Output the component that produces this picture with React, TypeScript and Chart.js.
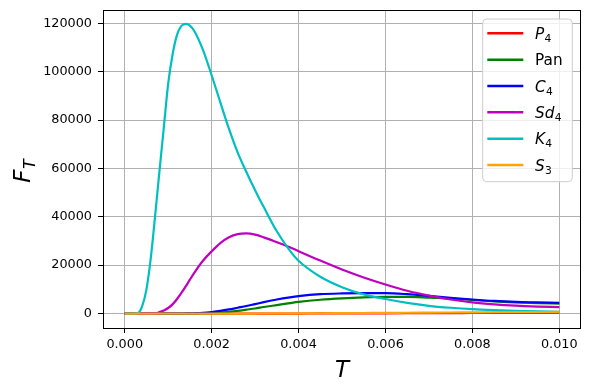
import React, { useEffect, useRef } from "react";
import { Chart, registerables } from "chart.js";

Chart.register(...registerables);

// ---- data ----
const T = [0, 0.0002, 0.0003, 0.0004, 0.0005, 0.0006, 0.0007, 0.0008, 0.0009, 0.001, 0.0011, 0.0012, 0.0013, 0.0014, 0.0015, 0.0016, 0.0018, 0.002, 0.0022, 0.0024, 0.0026, 0.0028, 0.003, 0.0032, 0.0035, 0.0038, 0.004, 0.0045, 0.005, 0.0055, 0.006, 0.0065, 0.007, 0.0075, 0.008, 0.0085, 0.009, 0.0095, 0.01];

const P4 = [0, 0, 0, 0, 0, 0, 0, 0, 0, 0, 0, 0, 0, 0, 0, 0, 0, 0, 0, 0, 0, 0, 0, 0, 0, 0, 0, 30, 50, 80, 110, 140, 170, 200, 230, 260, 290, 310, 330];
const Pan = [0, 0, 0, 0, 0, 0, 0, 0, 0, 0, 0, 0, 0, 0, 0, 0, 60, 180, 400, 700, 1100, 1600, 2100, 2700, 3500, 4300, 4800, 5700, 6300, 6700, 6900, 6900, 6600, 6200, 5600, 5000, 4600, 4300, 4100];
const C4 = [0, 0, 0, 0, 0, 0, 0, 0, 0, 0, 0, 0, 0, 30, 60, 120, 300, 650, 1100, 1700, 2400, 3100, 3900, 4700, 5800, 6700, 7200, 8000, 8300, 8400, 8400, 8000, 7300, 6500, 5800, 5200, 4800, 4600, 4400];
const Sd4 = [0, 0, 0, 0, 0, 0, 0, 600, 1300, 2300, 3800, 5900, 8400, 11100, 14000, 16800, 21800, 25700, 29100, 31500, 32800, 33100, 32600, 31500, 29500, 27400, 25800, 21900, 18200, 14900, 12000, 9400, 7400, 5800, 4600, 3800, 3250, 2900, 2650];
const K4 = [0, 0, 200, 3000, 10000, 23000, 40500, 59000, 77000, 95000, 107000, 115000, 118800, 119700, 119000, 116800, 109000, 98500, 87300, 76300, 66500, 58500, 51000, 44000, 34000, 26000, 21800, 15200, 10900, 7900, 6000, 4400, 3200, 2400, 1800, 1400, 1100, 900, 750];
const S3 = [0, 0, 0, 0, 0, 0, 0, 0, 0, 0, 0, 0, 0, 0, 0, 0, 0, 0, 0, 0, 0, 0, 0, 20, 40, 60, 80, 120, 170, 220, 270, 330, 380, 430, 480, 530, 580, 620, 660];

const seriesValues = [P4, Pan, C4, Sd4, K4, S3];
const seriesBase = ["P", "Pan", "C", "Sd", "K", "S"];
const seriesSub = ["4", "", "4", "4", "4", "3"];
const seriesItalic = [true, false, true, true, true, true];
const seriesColors = ["#ff0000", "#008000", "#0000ff", "#bf00bf", "#00bfbf", "#ffa500"];

const xTicks = [0, 0.002, 0.004, 0.006, 0.008, 0.01];
const yTicks = [0, 20000, 40000, 60000, 80000, 100000, 120000];
const xTitle = "T";
const yTitleBase = "F";
const yTitleSub = "T";

const FONT = '"DejaVu Sans", sans-serif';

function drawMath(
  ctx: CanvasRenderingContext2D,
  x: number,
  y: number,
  base: string,
  sub: string,
  size: number,
  italic: boolean,
  subItalic: boolean
) {
  ctx.font = `${italic ? "italic " : ""}${size}px ${FONT}`;
  ctx.fillText(base, x, y);
  const w = ctx.measureText(base).width;
  let w2 = 0;
  if (sub) {
    const s = size * 0.7;
    ctx.font = `${subItalic ? "italic " : ""}${s}px ${FONT}`;
    ctx.fillText(sub, x + w + size * 0.02, y + size * 0.2);
    w2 = ctx.measureText(sub).width + size * 0.02;
  }
  return w + w2;
}

function measureMath(ctx: CanvasRenderingContext2D, base: string, sub: string, size: number, italic: boolean, subItalic: boolean) {
  ctx.font = `${italic ? "italic " : ""}${size}px ${FONT}`;
  const w = ctx.measureText(base).width;
  let w2 = 0;
  if (sub) {
    ctx.font = `${subItalic ? "italic " : ""}${size * 0.7}px ${FONT}`;
    w2 = ctx.measureText(sub).width + size * 0.02;
  }
  return w + w2;
}

const decorPlugin = {
  id: "decor",
  afterDatasetsDraw(chart: any) {
    const { ctx, chartArea } = chart;
    ctx.save();
    ctx.strokeStyle = "#000";
    ctx.lineWidth = 1;
    ctx.strokeRect(
      Math.round(chartArea.left) + 0.5,
      Math.round(chartArea.top) + 0.5,
      Math.round(chartArea.right - chartArea.left) - 1,
      Math.round(chartArea.bottom - chartArea.top)
    );
    ctx.restore();
  },
  afterDraw(chart: any) {
    const { ctx, chartArea } = chart;
    ctx.save();
    // legend
    const right = chartArea.right - 8.7;
    const left = right - 89.6;
    const top = chartArea.top + 9;
    const h = 162.7;
    const r = 4;
    ctx.beginPath();
    ctx.moveTo(left + r, top);
    ctx.lineTo(right - r, top);
    ctx.quadraticCurveTo(right, top, right, top + r);
    ctx.lineTo(right, top + h - r);
    ctx.quadraticCurveTo(right, top + h, right - r, top + h);
    ctx.lineTo(left + r, top + h);
    ctx.quadraticCurveTo(left, top + h, left, top + h - r);
    ctx.lineTo(left, top + r);
    ctx.quadraticCurveTo(left, top, left + r, top);
    ctx.closePath();
    ctx.fillStyle = "rgba(255,255,255,0.8)";
    ctx.fill();
    ctx.strokeStyle = "#cccccc";
    ctx.lineWidth = 1;
    ctx.stroke();

    const size = 15.3;
    for (let i = 0; i < seriesBase.length; i++) {
      const y = top + 14.3 + i * 26.35;
      ctx.strokeStyle = seriesColors[i];
      ctx.lineWidth = 2.5;
      ctx.beginPath();
      ctx.moveTo(left + 4.6, y);
      ctx.lineTo(left + 40.6, y);
      ctx.stroke();
      ctx.fillStyle = "#000";
      ctx.textBaseline = "alphabetic";
      ctx.textAlign = "left";
      drawMath(ctx, left + 52.3, y + size * 0.365, seriesBase[i], seriesSub[i], size, seriesItalic[i], false);
    }

    // axis titles
    const tSize = 23;
    ctx.fillStyle = "#000";
    ctx.textAlign = "left";
    ctx.textBaseline = "alphabetic";
    const xw = measureMath(ctx, xTitle, "", tSize, true, false);
    const cx = (chartArea.left + chartArea.right) / 2;
    drawMath(ctx, cx - xw / 2, 377, xTitle, "", tSize, true, false);

    const yw = measureMath(ctx, yTitleBase, yTitleSub, tSize, true, true);
    const cy = (chartArea.top + chartArea.bottom) / 2;
    ctx.translate(30, cy + 2);
    ctx.rotate(-Math.PI / 2);
    drawMath(ctx, -yw / 2, 0, yTitleBase, yTitleSub, tSize, true, true);
    ctx.restore();
  },
};

export default function App() {
  const ref = useRef<HTMLCanvasElement | null>(null);

  useEffect(() => {
    if (!ref.current) return;
    const datasets = seriesValues.map((vals, i) => ({
      label: seriesBase[i] + (seriesSub[i] ? "_" + seriesSub[i] : ""),
      data: T.map((t, j) => ({ x: t, y: vals[j] })),
      borderColor: seriesColors[i],
      backgroundColor: seriesColors[i],
      borderWidth: 2.2,
      pointRadius: 0,
      fill: false,
      cubicInterpolationMode: "monotone" as const,
      order: seriesValues.length - 1 - i,
    }));
    const tickFont = { family: FONT, size: 12.8 };
    const chart = new Chart(ref.current, {
      type: "line",
      data: { datasets },
      options: {
        responsive: false,
        animation: false,
        events: [],
        layout: { padding: { left: 0, right: 8, top: 10, bottom: 0 } },
        plugins: { legend: { display: false }, tooltip: { enabled: false } },
        scales: {
          x: {
            type: "linear",
            min: -0.0005,
            max: 0.0105,
            afterBuildTicks: (s: any) => {
              s.ticks = xTicks.map((v) => ({ value: v }));
            },
            afterFit: (s: any) => {
              s.height = 62;
              s.paddingLeft = 0;
              s.paddingRight = 0;
            },
            ticks: {
              callback: (v: any) => Number(v).toFixed(3),
              font: tickFont,
              color: "#000",
              maxRotation: 0,
              autoSkip: false,
              padding: 4,
            },
            grid: { color: "#b0b0b0", tickColor: "#000", tickLength: 5, lineWidth: 1 },
            border: { display: false },
          },
          y: {
            type: "linear",
            min: -5975,
            max: 125475,
            afterBuildTicks: (s: any) => {
              s.ticks = yTicks.map((v) => ({ value: v }));
            },
            afterFit: (s: any) => {
              s.width = 103;
              s.paddingTop = 0;
              s.paddingBottom = 0;
            },
            ticks: {
              callback: (v: any) => String(v),
              font: tickFont,
              color: "#000",
              autoSkip: false,
              padding: 6,
            },
            grid: { color: "#b0b0b0", tickColor: "#000", tickLength: 5, lineWidth: 1 },
            border: { display: false },
          },
        },
      },
      plugins: [decorPlugin],
    });
    return () => chart.destroy();
  }, []);

  return (
    <div style={{ position: "absolute", left: 0, top: 0, width: 589, height: 390, background: "#fff" }}>
      <canvas ref={ref} width={589} height={390} style={{ display: "block" }} />
    </div>
  );
}
